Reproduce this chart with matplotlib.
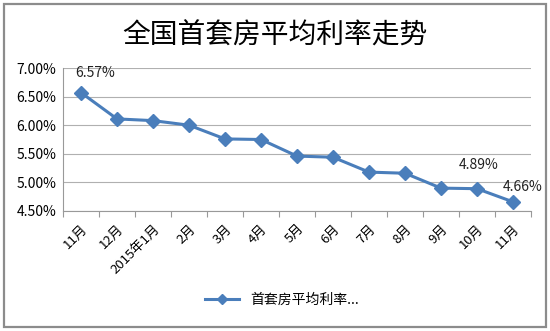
import matplotlib
matplotlib.use("Agg")
import matplotlib.pyplot as plt
from matplotlib.patches import Rectangle
from matplotlib.ticker import FuncFormatter, MultipleLocator

plt.rcParams['font.family'] = ['Noto Sans CJK SC', 'DejaVu Sans']

categories = ['11月', '12月', '2015年1月', '2月', '3月', '4月', '5月', '6月',
              '7月', '8月', '9月', '10月', '11月']
rates = [6.57, 6.11, 6.08, 6.00, 5.76, 5.75, 5.46, 5.44, 5.18, 5.16, 4.90, 4.89, 4.66]
labelled = {0: '6.57%', 11: '4.89%', 12: '4.66%'}
label_offsets = {0: (10, 9), 11: (1, 12), 12: (7, 6)}
series_name = '首套房平均利率...'
title = '全国首套房平均利率走势'

fig = plt.figure(figsize=(5.5, 3.31), dpi=100)
fig.patches.append(Rectangle((4/550, 4/331), 542/550, 323/331, transform=fig.transFigure,
                             fill=False, edgecolor='#8c8c8c', linewidth=1.6))

ax = fig.add_axes([63/550, 1-211/331, 468/550, 143/331])
x = list(range(len(categories)))
color = '#4a7ebb'
ax.plot(x, rates, color=color, linewidth=2.2, marker='D', markersize=7,
        label=series_name, zorder=3)

ax.set_xlim(-0.5, len(categories) - 0.5)
ax.set_ylim(4.5, 7.0)
ax.yaxis.set_major_locator(MultipleLocator(0.5))
ax.yaxis.set_major_formatter(FuncFormatter(lambda v, p: f'{v:.2f}%'))
ax.grid(axis='y', color='#b0b0b0', linewidth=0.8)
ax.set_axisbelow(True)
for s in ['top', 'right']:
    ax.spines[s].set_visible(False)
for s in ['left', 'bottom']:
    ax.spines[s].set_color('#999999')
ax.tick_params(axis='y', length=0, labelsize=10, pad=5)
ax.set_xticks([i - 0.5 for i in range(len(categories) + 1)])
ax.set_xticklabels([])
ax.set_xticks(x, minor=True)
ax.set_xticklabels(categories, minor=True, rotation=45, ha='right',
                   rotation_mode='anchor', fontsize=9.5)
ax.tick_params(axis='x', which='major', length=4, color='#999999', direction='out')
ax.tick_params(axis='x', which='minor', length=0, pad=8)

for i, t in labelled.items():
    ax.annotate(t, (i, rates[i]), xytext=label_offsets[i], textcoords='offset points',
                ha='center', va='bottom', fontsize=10, color='#222222',
                annotation_clip=False)

fig.text(0.5, 1-36/331, title, ha='center', va='center', fontsize=20)

fig.legend(loc='center', bbox_to_anchor=(282/550, 1-300/331), frameon=False,
           fontsize=10, handlelength=2.5, markerscale=0.8)

fig.savefig('out.png', dpi=100)
